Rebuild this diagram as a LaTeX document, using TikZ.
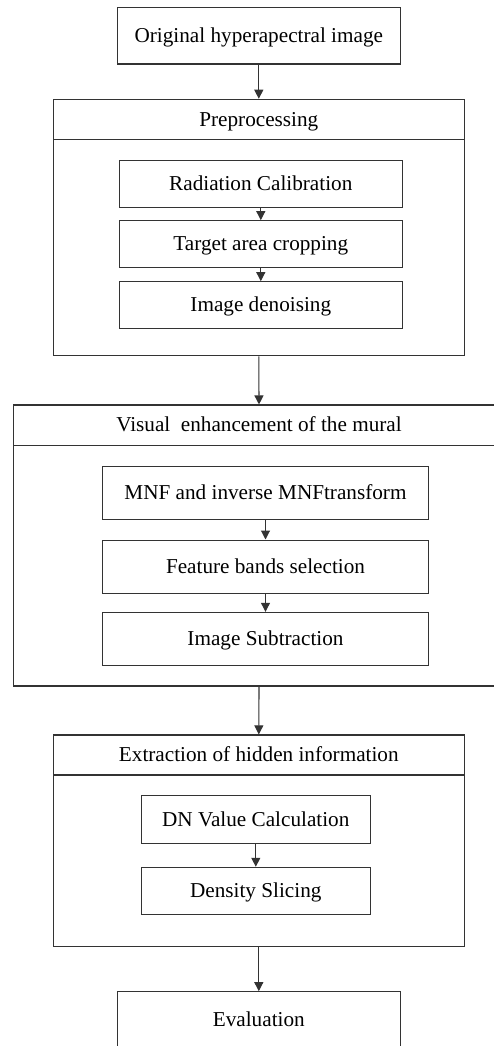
\documentclass[tikz,border=0pt]{standalone}
\usepackage{fontspec}
\setmainfont{Liberation Serif}
\usetikzlibrary{arrows.meta}
\begin{document}
\begin{tikzpicture}[x=1pt,y=-1pt,
  line width=1pt,
  every node/.style={font=\fontsize{21.2}{24}\selectfont, text height=16.5pt, text depth=3pt, inner sep=0pt},
  box/.style={draw=black!80, line width=1.1pt, rectangle},
  outer/.style={draw=black!80, line width=1.1pt, rectangle},
  hdr/.style={draw=black!80, line width=1.1pt, rectangle, anchor=north},
  arr/.style={draw=black!80, line width=1.1pt, -{Triangle[length=9pt,width=9pt]}}
]
\useasboundingbox (0,0) rectangle (493,1046);
% top
\node[box, minimum width=283pt, minimum height=56.7pt] (orig) at (258.8,35.7) {Original hyperapectral image};
% preprocessing
\node[outer, minimum width=411pt, minimum height=256.4pt] (pre) at (258.8,227.5) {};
\node[hdr, minimum width=411pt, minimum height=40pt] (preh) at (pre.north) {Preprocessing};
\node[box, minimum width=283pt, minimum height=46.6pt] (rad) at (260.8,184) {Radiation Calibration};
\node[box, minimum width=283pt, minimum height=47pt] (tgt) at (260.8,244.2) {Target area cropping};
\node[box, minimum width=283pt, minimum height=46.6pt] (den) at (260.8,305) {Image denoising};
% visual enhancement
\node[outer, minimum width=490.6pt, minimum height=281pt] (vis) at (259,545.5) {};
\node[hdr, minimum width=490.6pt, minimum height=40.3pt] (vish) at (vis.north) {Visual\ \ enhancement of the mural};
\node[box, minimum width=326.4pt, minimum height=53.3pt] (mnf) at (265.5,492.7) {MNF and inverse MNFtransform};
\node[box, minimum width=326.4pt, minimum height=53.3pt] (feat) at (265.5,566.7) {Feature bands selection};
\node[box, minimum width=326.4pt, minimum height=52.7pt] (sub) at (265.5,638.7) {Image Subtraction};
% extraction
\node[outer, minimum width=411pt, minimum height=211.7pt] (ext) at (258.8,840.8) {};
\node[hdr, minimum width=411pt, minimum height=40pt] (exth) at (ext.north) {Extraction of hidden information};
\node[box, minimum width=229pt, minimum height=47.6pt] (dn) at (255.8,819.5) {DN Value Calculation};
\node[box, minimum width=229pt, minimum height=47pt] (dens) at (255.8,890.8) {Density Slicing};
% evaluation
\node[box, minimum width=283pt, minimum height=56.6pt] (eval) at (258.8,1020) {Evaluation};
% arrows
\draw[arr] (orig.south) -- (preh.north);
\draw[arr] (rad.south) -- (tgt.north);
\draw[arr] (tgt.south) -- (den.north);
\draw[arr] (pre.south) -- (vish.north);
\draw[arr] (mnf.south) -- (feat.north);
\draw[arr] (feat.south) -- (sub.north);
\draw[arr] (vis.south) -- (exth.north);
\draw[arr] (dn.south) -- (dens.north);
\draw[arr] (ext.south) -- (eval.north);
\end{tikzpicture}
\end{document}
